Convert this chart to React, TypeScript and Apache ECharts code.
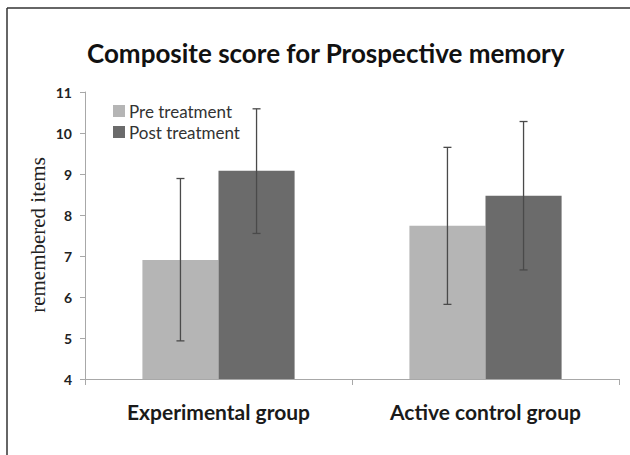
import React, { useEffect, useRef } from "react";
import * as echarts from "echarts";

const categories = ["Experimental group", "Active control group"];
const seriesNames = ["Pre treatment", "Post treatment"];
const preValues = [6.9, 7.74];
const postValues = [9.08, 8.47];
const preErrLow = [4.93, 5.82];
const preErrHigh = [8.89, 9.65];
const postErrLow = [7.55, 6.66];
const postErrHigh = [10.59, 10.28];
const yMin = 4;
const yMax = 11;
const yInterval = 1;

const BAR_FRAC = 0.285;

function errorSeries(name: string, lows: number[], highs: number[], side: number) {
  return {
    type: "custom",
    name: name + " error",
    silent: true,
    z: 10,
    data: lows.map((l, i) => [i, l, highs[i]]),
    encode: { x: 0, y: [1, 2] },
    renderItem: (params: any, api: any) => {
      const idx = api.value(0);
      const lo = api.coord([idx, api.value(1)]);
      const hi = api.coord([idx, api.value(2)]);
      const band = api.size([1, 0])[0];
      const x = lo[0] + side * band * BAR_FRAC * 0.5;
      const cap = 4;
      const style = { stroke: "#4a4a4a", lineWidth: 1.3 };
      return {
        type: "group",
        children: [
          { type: "line", shape: { x1: x, y1: lo[1], x2: x, y2: hi[1] }, style },
          { type: "line", shape: { x1: x - cap, y1: lo[1], x2: x + cap, y2: lo[1] }, style },
          { type: "line", shape: { x1: x - cap, y1: hi[1], x2: x + cap, y2: hi[1] }, style },
        ],
      };
    },
  };
}

export default function App() {
  const ref = useRef<HTMLDivElement>(null);
  useEffect(() => {
    if (!ref.current) return;
    const chart = echarts.init(ref.current, null, { renderer: "svg" });
    chart.setOption({
      animation: false,
      backgroundColor: "#ffffff",
      title: {
        text: "Composite score for Prospective memory",
        left: 87,
        top: 40,
        padding: 0,
        textStyle: { fontFamily: "Lato", fontWeight: "bold", fontSize: 26, color: "#111" },
      },
      legend: {
        data: seriesNames,
        orient: "vertical",
        left: 113,
        top: 102,
        padding: 0,
        itemWidth: 12,
        itemHeight: 12,
        itemGap: 3,
        icon: "rect",
        textStyle: { fontFamily: "Lato", fontSize: 17, color: "#333", lineHeight: 18, padding: [0, 0, 0, -1] },
      },
      grid: { left: 85, right: 11, top: 92, bottom: 76 },
      xAxis: {
        type: "category",
        data: categories,
        boundaryGap: true,
        axisLine: { lineStyle: { color: "#a8a8a8", width: 1 } },
        axisTick: { show: true, length: 6, lineStyle: { color: "#a8a8a8" } },
        axisLabel: {
          margin: 22,
          fontFamily: "Lato",
          fontWeight: "bold",
          fontSize: 21,
          color: "#1a1a1a",
        },
      },
      yAxis: {
        type: "value",
        min: yMin,
        max: yMax,
        interval: yInterval,
        splitLine: { show: false },
        axisLine: { show: true, lineStyle: { color: "#a8a8a8", width: 1 } },
        axisTick: { show: true, length: 5, lineStyle: { color: "#a8a8a8" } },
        axisLabel: {
          margin: 13,
          fontFamily: "Lato",
          fontWeight: "bold",
          fontSize: 14,
          color: "#222",
        },
      },
      graphic: [
        {
          type: "line",
          shape: { x1: 7, y1: 8, x2: 640, y2: 8 },
          style: { stroke: "#333", lineWidth: 1.5 },
        },
        {
          type: "line",
          shape: { x1: 7, y1: 8, x2: 7, y2: 460 },
          style: { stroke: "#333", lineWidth: 1.5 },
        },
        {
          type: "text",
          x: 38,
          y: 235,
          rotation: Math.PI / 2,
          style: {
            text: "remembered items",
            fontFamily: "Liberation Serif",
            fontSize: 21,
            fill: "#222",
            textAlign: "center",
            textVerticalAlign: "middle",
          },
        },
      ],
      series: [
        {
          name: seriesNames[0],
          type: "bar",
          data: preValues,
          barWidth: "28.5%",
          barGap: "0%",
          itemStyle: { color: "#b5b5b5" },
        },
        {
          name: seriesNames[1],
          type: "bar",
          data: postValues,
          barWidth: "28.5%",
          barGap: "0%",
          itemStyle: { color: "#6b6b6b" },
        },
        errorSeries(seriesNames[0], preErrLow, preErrHigh, -1),
        errorSeries(seriesNames[1], postErrLow, postErrHigh, 1),
      ],
    });
    return () => chart.dispose();
  }, []);
  return (
    <div
      ref={ref}
      style={{ position: "fixed", left: 0, top: 0, width: 630, height: 455 }}
    />
  );
}
